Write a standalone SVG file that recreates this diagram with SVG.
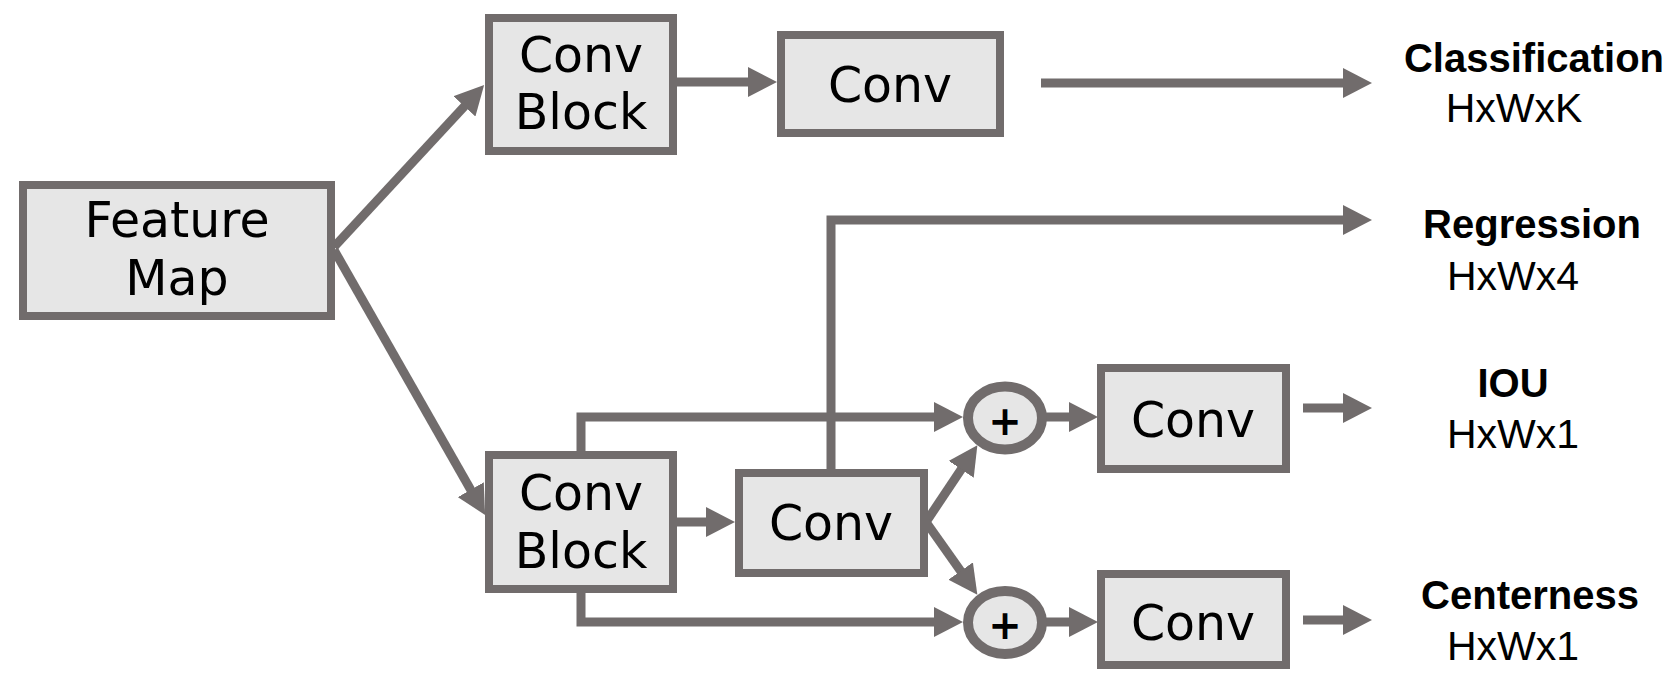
<svg xmlns="http://www.w3.org/2000/svg" width="1676" height="673" viewBox="0 0 1676 673">
<defs>
<style>
.box{fill:#e6e6e6;stroke:#716c6c;stroke-width:8}
.sum{fill:#e6e6e6;stroke:#716c6c;stroke-width:10}
.lbl{font-family:"DejaVu Sans",sans-serif;font-size:49px;fill:#000;text-anchor:middle}
.plus{font-family:"DejaVu Sans",sans-serif;font-weight:bold;font-size:40px;fill:#000;text-anchor:middle}
.out{font-family:"Liberation Sans",Arial,sans-serif;font-weight:bold;font-size:40px;fill:#000;text-anchor:middle}
.dim{font-family:"Liberation Sans",Arial,sans-serif;font-size:41px;fill:#000;text-anchor:middle}
.edge{fill:none;stroke:#716c6c;stroke-width:9;marker-end:url(#ah)}
</style>
<marker id="ah" markerUnits="userSpaceOnUse" viewBox="0 0 29 30" markerWidth="29" markerHeight="30" refX="10" refY="15" orient="auto">
<path d="M0,0 L29,15 L0,30 z" fill="#716c6c"/>
</marker>
</defs>
<rect width="1676" height="673" fill="#fff"/>
<g id="connectors">
<path class="edge" d="M334,247 L471.2,99"/>
<path class="edge" d="M334,250 L475.7,498.4"/>
<path class="edge" d="M677,82 L758,82"/>
<path class="edge" d="M1041,83 L1353,83"/>
<path class="edge" d="M831,473 L831,220 L1353,220"/>
<path class="edge" d="M677,522 L716,522"/>
<path class="edge" d="M581,455 L581,417 L944,417"/>
<path class="edge" d="M581,589 L581,622 L944,622"/>
<path class="edge" d="M926,522 L966.8,461"/>
<path class="edge" d="M926,522 L966.4,579.2"/>
<path class="edge" d="M1045,417 L1079,417"/>
<path class="edge" d="M1045,622 L1079,622"/>
<path class="edge" d="M1303,408 L1353,408"/>
<path class="edge" d="M1303,620 L1353,620"/>
</g>
<g id="feature-map">
<rect class="box" x="23" y="185" width="308" height="131"/>
<text class="lbl" x="177" y="237">Feature</text>
<text class="lbl" x="177" y="295">Map</text>
</g>
<g id="conv-block-top">
<rect class="box" x="489" y="18" width="184" height="133"/>
<text class="lbl" x="581" y="72">Conv</text>
<text class="lbl" x="581" y="129">Block</text>
</g>
<g id="conv-cls">
<rect class="box" x="781" y="35" width="219" height="98"/>
<text class="lbl" x="890" y="102">Conv</text>
</g>
<g id="conv-block-bottom">
<rect class="box" x="489" y="455" width="184" height="134"/>
<text class="lbl" x="581" y="510">Conv</text>
<text class="lbl" x="581" y="568">Block</text>
</g>
<g id="conv-mid">
<rect class="box" x="739" y="473" width="185" height="100"/>
<text class="lbl" x="831" y="540">Conv</text>
</g>
<g id="sum-top">
<ellipse class="sum" cx="1005" cy="418" rx="37" ry="31.5"/>
<text class="plus" x="1005" y="435">+</text>
</g>
<g id="sum-bottom">
<ellipse class="sum" cx="1005" cy="622.5" rx="37" ry="31.5"/>
<text class="plus" x="1005" y="639">+</text>
</g>
<g id="conv-iou">
<rect class="box" x="1101" y="368" width="185" height="101"/>
<text class="lbl" x="1193" y="437">Conv</text>
</g>
<g id="conv-centerness">
<rect class="box" x="1101" y="574" width="185" height="91"/>
<text class="lbl" x="1193" y="640">Conv</text>
</g>
<g id="out-classification">
<text class="out" x="1534" y="72">Classification</text>
<text class="dim" x="1514" y="122">HxWxK</text>
</g>
<g id="out-regression">
<text class="out" x="1532" y="238">Regression</text>
<text class="dim" x="1513" y="290">HxWx4</text>
</g>
<g id="out-iou">
<text class="out" x="1513" y="397">IOU</text>
<text class="dim" x="1513" y="448">HxWx1</text>
</g>
<g id="out-centerness">
<text class="out" x="1530" y="609">Centerness</text>
<text class="dim" x="1513" y="660">HxWx1</text>
</g>
</svg>
